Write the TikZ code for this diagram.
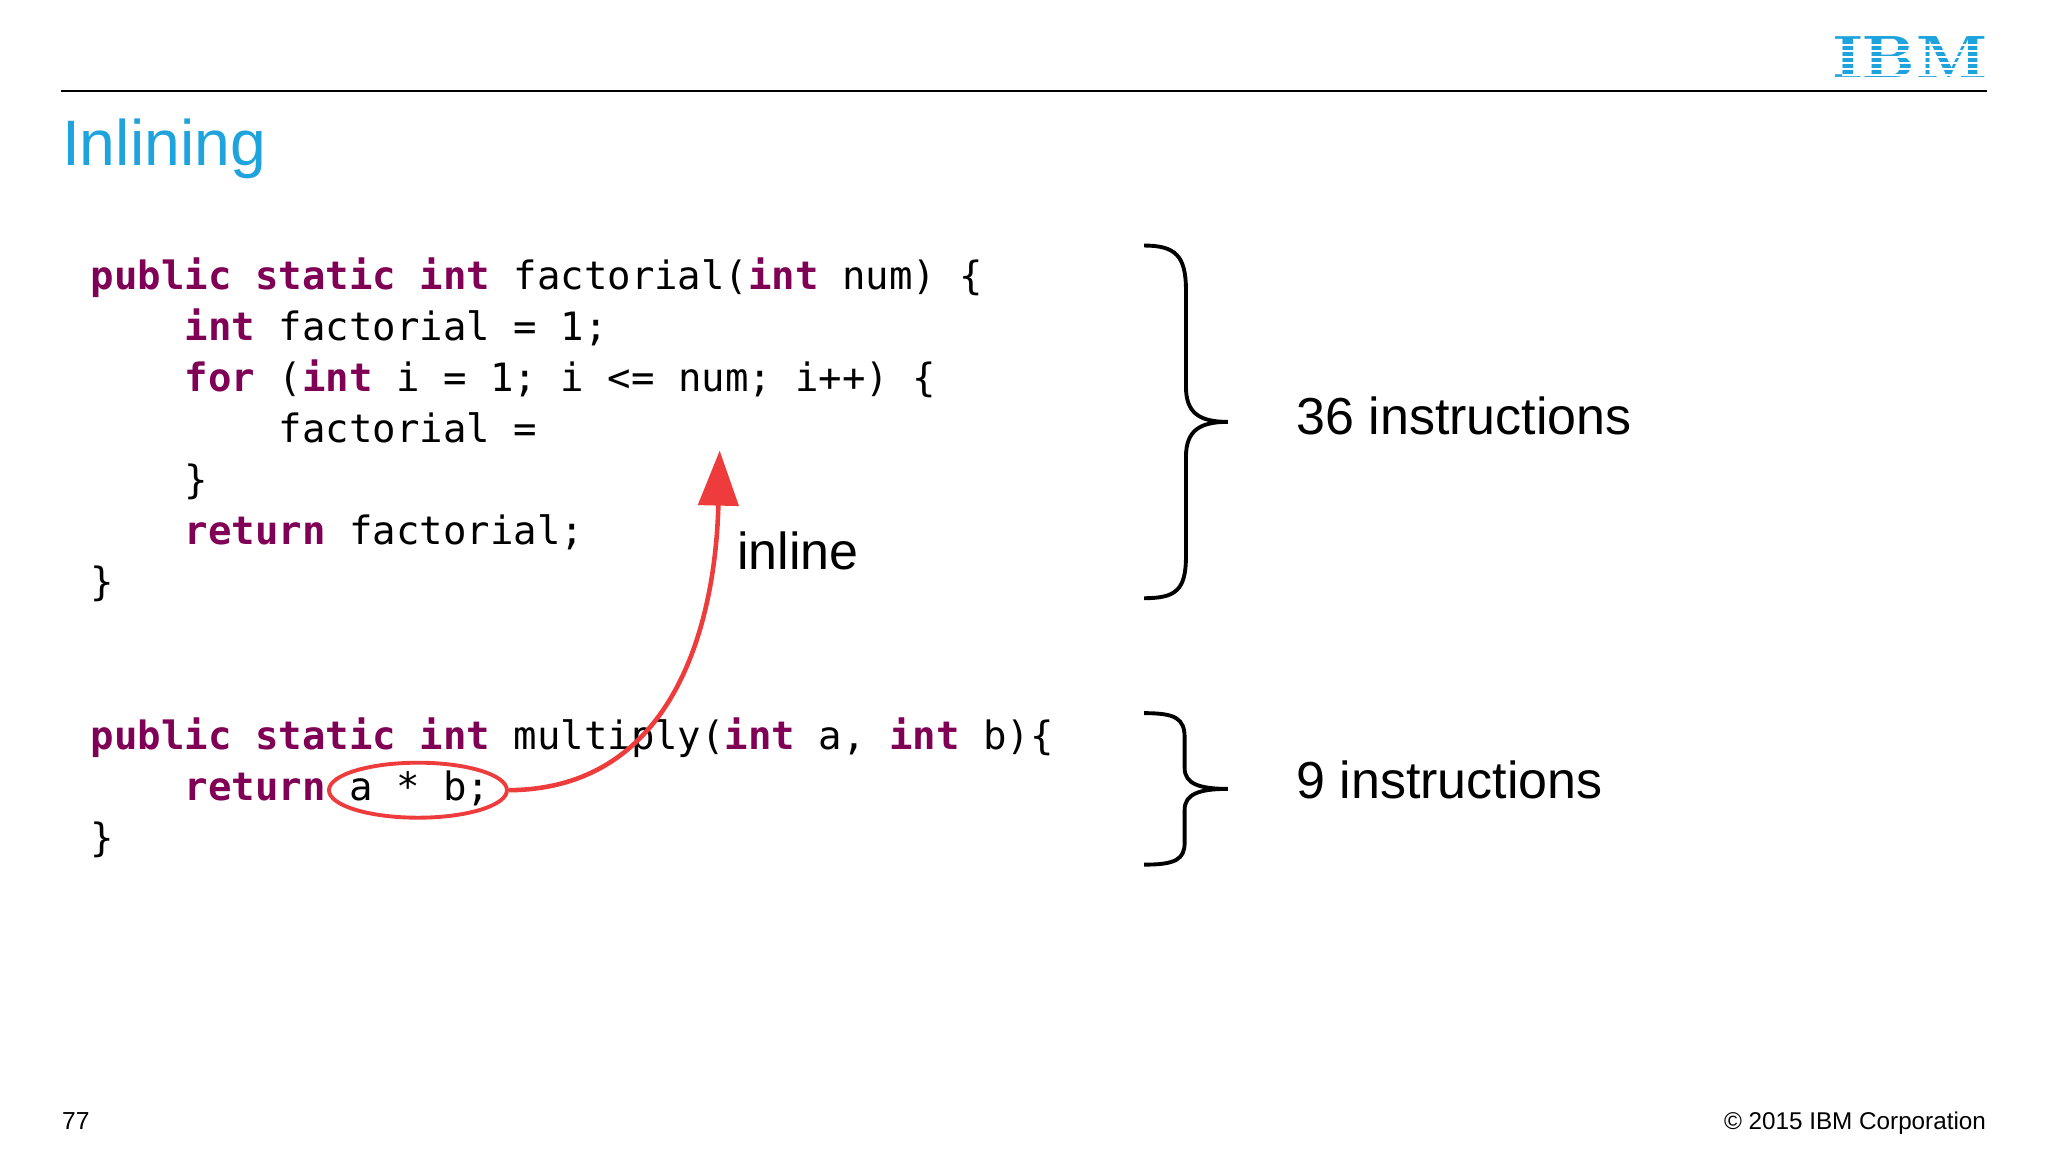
\documentclass[tikz,border=0pt]{standalone}
\usepackage{fontspec}
\setmainfont{Liberation Sans}
\setmonofont{DejaVu Sans Mono}
\usetikzlibrary{arrows.meta, shapes.geometric}
\definecolor{kw}{HTML}{7F0055}
\definecolor{ibmblue}{HTML}{1FA3DC}
\definecolor{arrowred}{HTML}{EE3B3B}
\newcommand{\kw}[1]{\textbf{\textcolor{kw}{#1}}}

\begin{document}
\begin{tikzpicture}[
            x = 0.013061cm, y = -0.013061cm, % one unit per pixel
            > = Stealth,
            code/.style = {anchor = base west, inner sep = 0pt, font = \ttfamily\fontsize{11.1}{13}\selectfont},
            bigtext/.style = {anchor = base west, inner sep = 0pt, font = \fontsize{14.8}{18}\selectfont},
            bracket/.style = {draw = black, line width = 1.1pt}
        ]

        \useasboundingbox (0,0) rectangle (1568,882);

        % header
        \draw[line width = 0.6pt] (47,70) -- (1521,70);
        \node[anchor = base west, inner sep = 0pt, text = ibmblue, font = \fontsize{18.3}{22}\selectfont] (title) at (47,127) {Inlining};
        \node[anchor = base east, inner sep = 0pt, text = ibmblue, xscale = 1.25, font = \fontfamily{lmr}\bfseries\fontsize{17}{20}\selectfont] (logo) at (1522,59) {IBM};
        \foreach \yy in {34, 38.5, 43, 47.5, 52, 56.5}
            \fill[white] (1410,\yy) rectangle (1525,\yy+1.6);

        % factorial
        \node[code] (f1) at (69,222) {\kw{public static int} factorial(\kw{int} num) \{};
        \node[code] (f2) at (141,261) {\kw{int} factorial = 1;};
        \node[code] (f3) at (141,300) {\kw{for} (\kw{int} i = 1; i <= num; i++) \{};
        \node[code] (f4) at (213,339) {factorial =};
        \node[code] (f5) at (141,378) {\}};
        \node[code] (f6) at (141,417) {\kw{return} factorial;};
        \node[code] (f7) at (69,456) {\}};

        % multiply
        \node[code] (m1) at (69,574) {\kw{public static int} multiply(\kw{int} a, \kw{int} b)\{};
        \node[code] (m2) at (141,613) {\kw{return}};
        \node[code] (m3) at (267,613) {a * b;};
        \node[code] (m4) at (69,652) {\}};

        % inline arrow
        \node[ellipse, draw = arrowred, line width = 1.1pt, inner sep = 0pt,
              minimum width = 1.78cm, minimum height = 0.55cm] (expr) at (320,605) {};
        \coordinate (target) at (551,345);
        \draw[arrowred, line width = 1.3pt, arrows = {-Triangle[length = 0.55cm, width = 0.4cm]}]
            (expr.east) .. controls (520,604) and (548,470) .. (target);
        \node[bigtext] (inl) at (564,436) {inline};

        % braces
        \draw[bracket] (876,188) .. controls (900,188) and (908,196) .. (908,222)
            -- (908,296) .. controls (908,316) and (918,323) .. (940,323)
            .. controls (918,323) and (908,330) .. (908,350)
            -- (908,426) .. controls (908,452) and (900,458) .. (876,458);
        \draw[bracket] (876,546) .. controls (900,546) and (907,550) .. (907,565)
            -- (907,588) .. controls (907,600) and (918,604) .. (940,604)
            .. controls (918,604) and (907,608) .. (907,620)
            -- (907,645) .. controls (907,658) and (900,662) .. (876,662);
        \node[bigtext] (n36) at (992,333) {36 instructions};
        \node[bigtext] (n9) at (992,611) {9 instructions};

        % footer
        \node[anchor = base west, inner sep = 0pt, font = \fontsize{7}{8}\selectfont] (page) at (47,865) {77};
        \node[anchor = base east, inner sep = 0pt, font = \fontsize{6.9}{8}\selectfont] (copy) at (1521,865) {© 2015 IBM Corporation};

  \end{tikzpicture}
\end{document}
